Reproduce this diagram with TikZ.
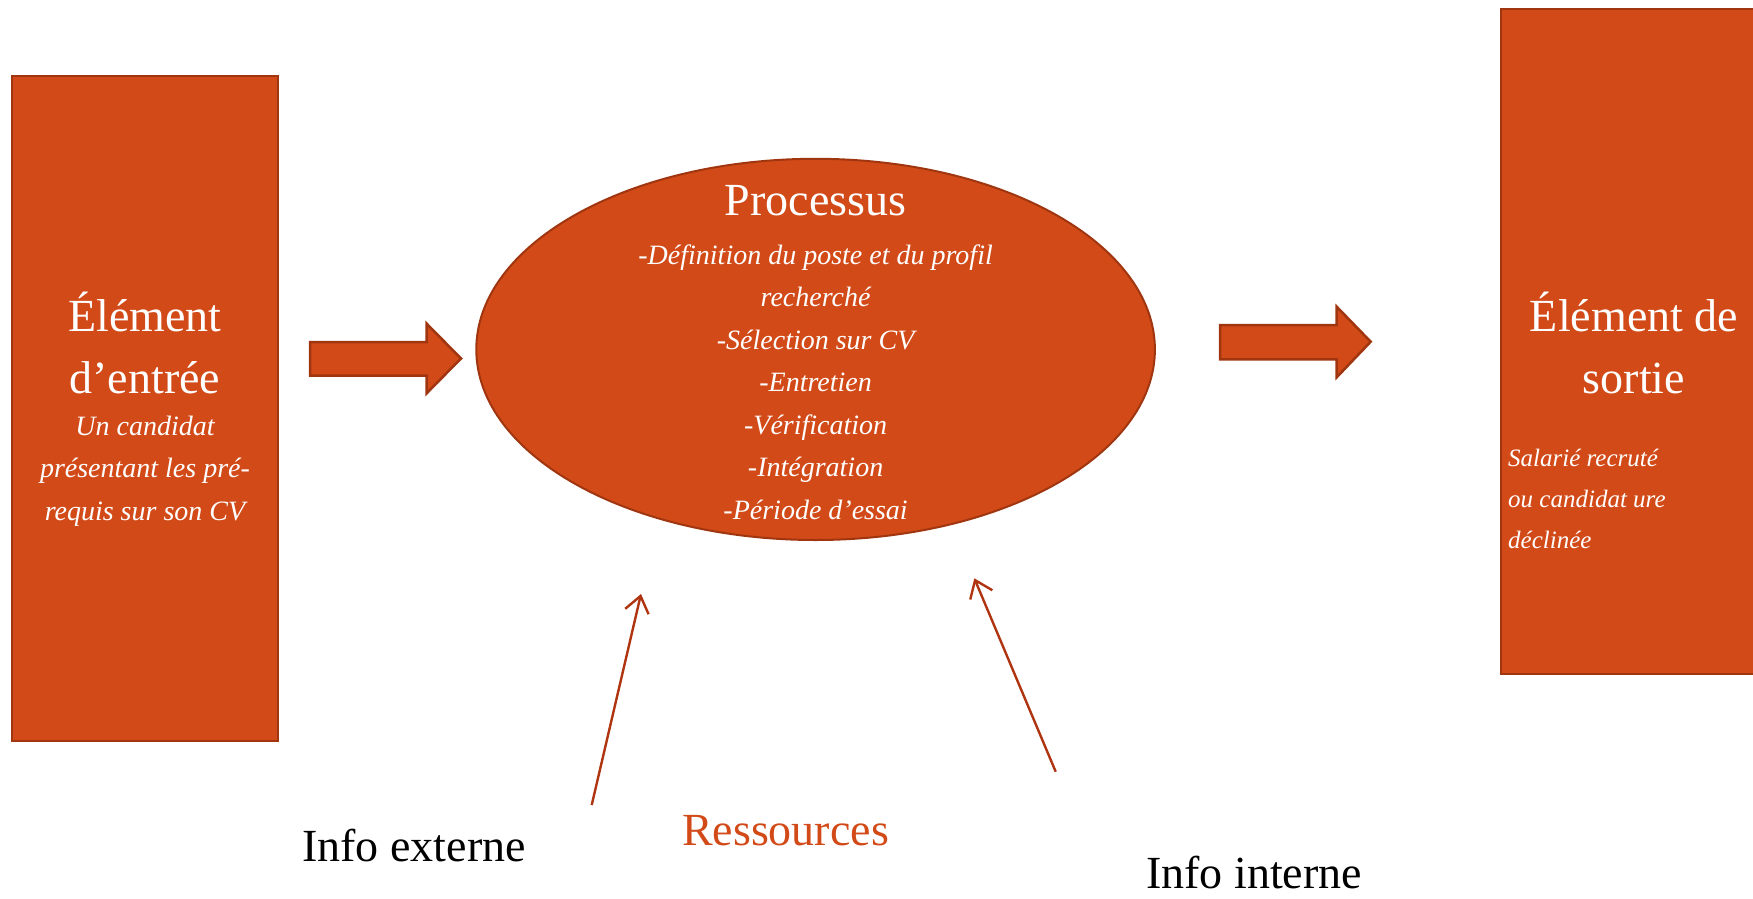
\documentclass[tikz,border=0pt]{standalone}
\usepackage{fontspec}
\setmainfont{Liberation Serif}
\usetikzlibrary{arrows.meta}
\definecolor{rfill}{RGB}{210,74,24}
\definecolor{rdraw}{RGB}{160,54,16}
\definecolor{rline}{RGB}{175,52,16}
\tikzset{
  box/.style={fill=rfill, draw=rdraw, line width=2pt},
  blockarrow/.style={fill=rfill, draw=rdraw, line width=2.5pt, line join=miter},
  thinarrow/.style={draw=rline, line width=2.4pt, -{Straight Barb[length=16pt,width=24pt,line width=2.4pt]}},
  title/.style={text=white, align=center, font=\fontsize{46}{61.5}\selectfont, inner sep=0pt},
  sub/.style={text=white, align=center, font=\itshape\fontsize{28}{42.5}\selectfont, inner sep=0pt},
  label/.style={font=\fontsize{46}{55}\selectfont, inner sep=0pt, anchor=base}
}
\begin{document}
\begin{tikzpicture}[x=1pt,y=-1pt]
\useasboundingbox (0,0) rectangle (1753,899);
% left box
\path[box] (12,76) rectangle (278,741);
\node[title] (intitle) at (145,343) {Élément\\d’entrée};
\node[sub] (insub) at (145,471) {Un candidat\\présentant les pré-\\requis sur son CV};
% right box
\path[box] (1501,9) rectangle (1760,674);
\node[title] (outtitle) at (1634,343) {Élément de\\sortie};
\node[sub, align=left, anchor=west, font=\itshape\fontsize{25}{41}\selectfont] (outsub) at (1508,499) {Salarié recruté\\ou candidat ure\\déclinée};
% ellipse
\path[box] (815.6,349.4) ellipse [x radius=339.3, y radius=190.6];
\node[title] (proc) at (815.6,201) {Processus};
\node[sub] (steps) at (815.6,382) {-Définition du poste et du profil\\recherché\\-Sélection sur CV\\-Entretien\\-Vérification\\-Intégration\\-Période d’essai};
% block arrows
\path[blockarrow] (310,342) -- (426.5,342) -- (426.5,323.5) -- (461,358.5) -- (426.5,393.5) -- (426.5,375.5) -- (310,375.5) -- cycle;
\path[blockarrow] (1220,325) -- (1336.7,325) -- (1336.7,306.7) -- (1370.7,341.7) -- (1336.7,377.3) -- (1336.7,359.3) -- (1220,359.3) -- cycle;
% resources
\coordinate (ext) at (591.7,805);
\coordinate (extTip) at (641,594);
\coordinate (int) at (1055.7,771.7);
\coordinate (intTip) at (974.3,578.3);
\draw[thinarrow] (ext) -- (extTip);
\draw[thinarrow] (int) -- (intTip);
\node[label] (infoext) at (414,861) {Info externe};
\node[label, text=rfill] (res) at (785.5,845) {Ressources};
\node[label] (infoint) at (1254,888) {Info interne};
\end{tikzpicture}
\end{document}
